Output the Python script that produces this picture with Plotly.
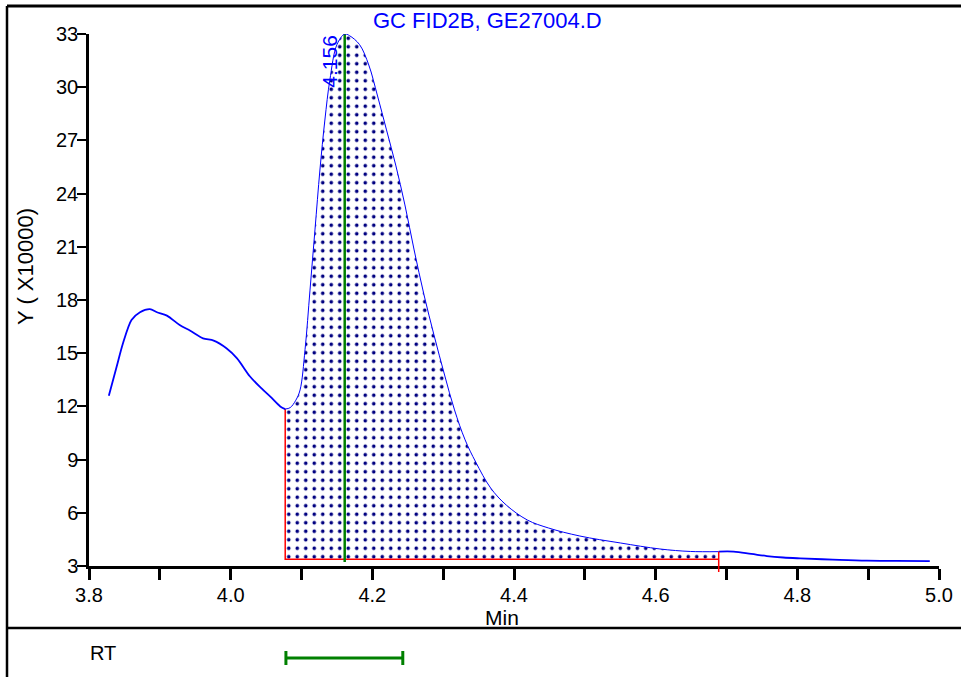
import plotly.graph_objects as go

# ---------------- data ----------------
time_min = [3.828, 3.839, 3.848, 3.860, 3.872, 3.886, 3.896, 3.910, 3.928, 3.943,
            3.961, 3.976, 3.994, 4.009, 4.027, 4.041, 4.056, 4.070, 4.077, 4.084,
            4.092, 4.098, 4.105, 4.112, 4.119, 4.126, 4.133, 4.140, 4.150, 4.161,
            4.168, 4.182, 4.195, 4.207, 4.220, 4.233, 4.246, 4.259, 4.273, 4.287,
            4.302, 4.316, 4.331, 4.346, 4.367, 4.389, 4.419, 4.449, 4.493, 4.550,
            4.606, 4.649, 4.689, 4.710, 4.735, 4.757, 4.780, 4.804, 4.850, 4.898,
            4.940, 4.987]
signal = [12.6, 14.24, 15.56, 16.87, 17.31, 17.48, 17.31, 17.12, 16.59, 16.27,
          15.84, 15.71, 15.28, 14.71, 13.70, 13.11, 12.55, 12.0, 11.85, 11.93,
          12.35, 12.93, 15.2, 18.56, 21.95, 25.33, 28.15, 30.4, 32.4, 33.0,
          32.9, 32.4, 31.25, 29.56, 27.59, 25.61, 23.36, 20.82, 18.28, 16.03,
          13.77, 11.80, 10.11, 8.86, 7.40, 6.44, 5.59, 5.14, 4.69, 4.30,
          3.96, 3.82, 3.81, 3.81, 3.68, 3.56, 3.48, 3.43, 3.36, 3.30,
          3.29, 3.28]

peak_start = 4.077
peak_end = 4.689
peak_baseline = 3.38
peak_apex_time = 4.161
peak_label = "4.156"
marker_bottom = 3.22
end_tick_bottom = 2.66
rt_window = [4.078, 4.243]

x_ticks = [3.8, 3.9, 4.0, 4.1, 4.2, 4.3, 4.4, 4.5, 4.6, 4.7, 4.8, 4.9, 5.0]
x_ticktext = ["3.8", "", "4.0", "", "4.2", "", "4.4", "", "4.6", "", "4.8", "", "5.0"]
y_ticks = [3, 6, 9, 12, 15, 18, 21, 24, 27, 30, 33]
y_range = [3, 33]
x_range = [3.8, 5.0]

title_text = "GC FID2B, GE27004.D"
x_title = "Min"
y_title = "Y ( X10000)"
rt_label = "RT"

# ---------------- layout geometry ----------------
W, H = 961, 677
XD = [89 / W, 939 / W]
YD = [(H - 566) / H, (H - 34) / H]

def py(px):
    return 1 - px / H

def px_(p):
    return p / W

def val_to_paper(v):
    return YD[0] + (v - y_range[0]) / (y_range[1] - y_range[0]) * (YD[1] - YD[0])

FONT = "Liberation Sans, Arial, sans-serif"
BLUE = "#0000ff"

# segments
pre_x = [t for t in time_min if t <= peak_start]
pre_y = [s for t, s in zip(time_min, signal) if t <= peak_start]
pk_x = [t for t in time_min if peak_start <= t <= peak_end]
pk_y = [s for t, s in zip(time_min, signal) if peak_start <= t <= peak_end]
post_x = [t for t in time_min if t >= peak_end]
post_y = [s for t, s in zip(time_min, signal) if t >= peak_end]
y_at_start = pk_y[0]
y_at_end = pk_y[-1]

fig = go.Figure()

# baseline (fill reference), then shaded peak area between curve and baseline
fig.add_trace(go.Scatter(
    x=[peak_start, peak_end], y=[peak_baseline, peak_baseline],
    mode="lines", line=dict(width=0, color="rgba(0,0,0,0)"),
    hoverinfo="skip", showlegend=False))
fig.add_trace(go.Scatter(
    x=pk_x, y=pk_y,
    fill="tonexty", mode="lines", line=dict(width=0, shape="spline", color="rgba(0,0,0,0)"),
    fillcolor="white",
    fillpattern=dict(shape=".", fgcolor="#000080", bgcolor="white",
                     size=8.5, solidity=0.14, fgopacity=1),
    hoverinfo="skip", showlegend=False))

# red baseline
fig.add_trace(go.Scatter(
    x=[peak_start, peak_start, peak_end],
    y=[y_at_start, peak_baseline, peak_baseline],
    mode="lines", line=dict(color="red", width=1.5), showlegend=False))

# green apex marker
fig.add_trace(go.Scatter(
    x=[peak_apex_time, peak_apex_time], y=[max(signal), marker_bottom],
    mode="lines", line=dict(color="#008000", width=2.5), showlegend=False))

# signal
fig.add_trace(go.Scatter(x=pre_x, y=pre_y, mode="lines",
                         line=dict(color=BLUE, width=1.8, shape="spline", smoothing=0.8),
                         showlegend=False))
fig.add_trace(go.Scatter(x=pk_x, y=pk_y, mode="lines",
                         line=dict(color=BLUE, width=1, shape="spline"), showlegend=False))
fig.add_trace(go.Scatter(x=post_x, y=post_y, mode="lines",
                         line=dict(color=BLUE, width=1.8, shape="spline"), showlegend=False))

shapes = []
# frame lines
shapes.append(dict(type="line", xref="paper", yref="paper", x0=px_(7), x1=1, y0=py(6), y1=py(6),
                   line=dict(color="black", width=3)))
shapes.append(dict(type="line", xref="paper", yref="paper", x0=px_(7), x1=px_(7), y0=py(6), y1=0,
                   line=dict(color="black", width=2.5)))
shapes.append(dict(type="line", xref="paper", yref="paper", x0=px_(7), x1=1, y0=py(628), y1=py(628),
                   line=dict(color="black", width=2.5)))
# red end tick of integration
shapes.append(dict(type="line", xref="x", yref="paper", x0=peak_end, x1=peak_end,
                   y0=val_to_paper(y_at_end), y1=val_to_paper(end_tick_bottom),
                   line=dict(color="red", width=1.5)))
# RT window bar
rt_y = py(658)
shapes.append(dict(type="line", xref="x", yref="paper", x0=rt_window[0], x1=rt_window[1],
                   y0=rt_y, y1=rt_y, line=dict(color="#008000", width=3)))
for xv in rt_window:
    shapes.append(dict(type="line", xref="x", yref="paper", x0=xv, x1=xv,
                       y0=py(651), y1=py(665), line=dict(color="#008000", width=3)))

annotations = [
    dict(text=title_text, x=px_(487), y=py(21), xref="paper", yref="paper",
         showarrow=False, font=dict(family=FONT, size=22, color=BLUE),
         xanchor="center", yanchor="middle"),
    dict(text=x_title, x=px_(502), y=py(617), xref="paper", yref="paper",
         showarrow=False, font=dict(family=FONT, size=21, color="black"),
         xanchor="center", yanchor="middle"),
    dict(text=y_title, x=px_(25), y=py(267), xref="paper", yref="paper",
         showarrow=False, textangle=-90, font=dict(family=FONT, size=22, color="black"),
         xanchor="center", yanchor="middle"),
    dict(text=rt_label, x=px_(103), y=py(653), xref="paper", yref="paper",
         showarrow=False, font=dict(family=FONT, size=20, color="black"),
         xanchor="center", yanchor="middle"),
    dict(text=peak_label, x=peak_apex_time, y=max(signal), xref="x", yref="y",
         showarrow=False, textangle=-90, font=dict(family=FONT, size=21, color=BLUE),
         xanchor="right", yanchor="top", xshift=-2, yshift=1),
]

fig.update_layout(
    width=W, height=H, margin=dict(l=0, r=0, t=0, b=0, autoexpand=False),
    paper_bgcolor="white", plot_bgcolor="white",
    showlegend=False, shapes=shapes, annotations=annotations,
    xaxis=dict(domain=XD, range=x_range, tickvals=x_ticks, ticktext=x_ticktext,
               automargin=False, ticklabelstandoff=-2,
               showgrid=False, zeroline=False, showline=True, linecolor="black", linewidth=3,
               ticks="outside", ticklen=11, tickwidth=2.5, tickcolor="black",
               tickfont=dict(family=FONT, size=20, color="black")),
    yaxis=dict(domain=YD, range=y_range, tickvals=y_ticks, automargin=False,
               ticklabelstandoff=-5,
               showgrid=False, zeroline=False, showline=True, linecolor="black", linewidth=2.5,
               ticks="outside", ticklen=9, tickwidth=2, tickcolor="black",
               tickfont=dict(family=FONT, size=20, color="black")),
)

fig.write_html("out.html", config={"displayModeBar": False},
               post_script="document.body.style.margin='0px';document.body.style.overflow='hidden';")
